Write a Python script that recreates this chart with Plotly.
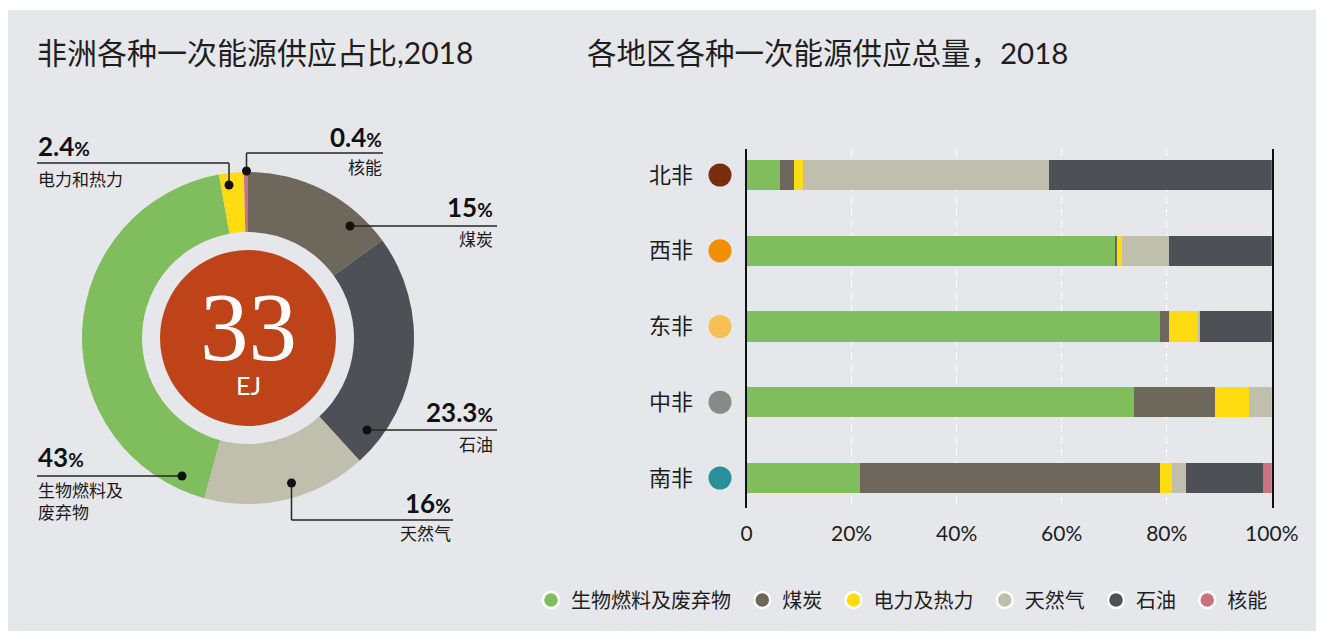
import plotly.graph_objects as go

# ---------------- data ----------------
regions = ["北非", "西非", "东非", "中非", "南非"]
region_colors = ["#7A2C12", "#F18F01", "#F8C053", "#8A8A88", "#2A8F9B"]

series_names = ["生物燃料及废弃物", "煤炭", "电力及热力", "天然气", "石油", "核能"]
series_colors = ["#7FBD5D", "#6E675B", "#FFDC11", "#C0BFAD", "#4D5155", "#C97280"]
bio = [6.3, 70.0, 78.7, 73.6, 21.6]
coal = [2.6, 0.4, 1.6, 15.4, 57.1]
elec = [1.7, 0.9, 5.6, 6.6, 2.3]
gas = [46.8, 9.0, 0.3, 4.4, 2.5]
oil = [42.6, 19.7, 13.8, 0.0, 14.8]
nuclear = [0.0, 0.0, 0.0, 0.0, 1.7]
series_values = [bio, coal, elec, gas, oil, nuclear]

pie_labels = ["煤炭", "石油", "天然气", "生物燃料及废弃物", "电力和热力", "核能"]
pie_values = [15, 23.3, 16, 43, 2.4, 0.4]
pie_colors = ["#6E675B", "#4D5155", "#C0BFAD", "#7FBD5D", "#FFDC11", "#C97280"]
pie_text = ["15", "23.3", "16", "43", "2.4", "0.4"]

x_ticks = [0, 20, 40, 60, 80, 100]
x_ticktext = ["0", "20%", "40%", "60%", "80%", "100%"]

total_value = "33"
total_unit = "EJ"
title_left = "非洲各种一次能源供应占比,2018"
title_right = "各地区各种一次能源供应总量，2018"

# ---------------- layout helpers ----------------
# the page body keeps its default 8px margin, so the figure is sized to fit the window
OX, OY = 8, 8
FW, FH = 1308, 623
BG = "#E6E7EB"
FONT = "Lato, 'Noto Sans CJK SC', sans-serif"
INK = "#1E1E1E"


def X(px):
    return (px - OX) / FW


def Y(py):
    return 1 - (py - OY) / FH


fig = go.Figure()

# donut
cx, cy, R, r_in, r_core = 248, 338, 166, 106, 88
fig.add_trace(go.Pie(
    labels=pie_labels, values=pie_values, sort=False, direction="clockwise",
    rotation=0, hole=r_in / R, textinfo="none", hoverinfo="label+percent",
    marker=dict(colors=pie_colors, line=dict(width=0)),
    domain=dict(x=[X(cx - R), X(cx + R)], y=[Y(cy + R), Y(cy - R)]),
    showlegend=False,
))

# stacked bars
for name, vals, col in zip(series_names, series_values, series_colors):
    fig.add_trace(go.Bar(
        y=regions, x=vals, name=name, orientation="h",
        marker=dict(color=col, line=dict(width=0)), width=0.4,
        showlegend=False, xaxis="x", yaxis="y",
    ))

# region dots (own narrow x axis left of the bars)
fig.add_trace(go.Scatter(
    x=[0] * len(regions), y=regions, mode="markers", xaxis="x2", yaxis="y",
    marker=dict(size=23, color=region_colors, line=dict(width=0)), cliponaxis=False,
    showlegend=False, hoverinfo="skip",
))

# legend entries (round symbols); a narrow trailing space widens the item gap
for name, col in zip(series_names, series_colors):
    fig.add_trace(go.Scatter(
        x=[None], y=[None], mode="markers", name=name + "\u2005\u200a",
        marker=dict(size=16, color=col, line=dict(color="white", width=2.5)),
        showlegend=True,
    ))

shapes = []
annotations = []

# thin white band at the very top
shapes.append(dict(type="rect", xref="paper", yref="paper", x0=0, x1=1, y0=Y(10), y1=1,
                   fillcolor="white", line=dict(width=0), layer="below"))

# core circle with the total
shapes.append(dict(type="circle", xref="paper", yref="paper",
                   x0=X(cx - r_core), x1=X(cx + r_core), y0=Y(cy + r_core), y1=Y(cy - r_core),
                   fillcolor="#BF4319", line=dict(width=0)))
annotations.append(dict(
    xref="paper", yref="paper", x=X(cx), y=Y(337), showarrow=False,
    xanchor="center", yanchor="middle", align="center",
    text=(f"<span style=\"font-size:97px;font-family:Liberation Serif,DejaVu Serif,serif\">{total_value}</span>"
          f"<br><span style=\"font-size:25px\">{total_unit}</span>"),
    font=dict(family=FONT, size=27, color="white")))

# titles
annotations.append(dict(xref="paper", yref="paper", x=X(35), y=Y(52), text=title_left,
                        showarrow=False, xanchor="left", yanchor="middle",
                        font=dict(family=FONT, size=30, color=INK)))
annotations.append(dict(xref="paper", yref="paper", x=X(585), y=Y(52), text=title_right,
                        showarrow=False, xanchor="left", yanchor="middle",
                        font=dict(family=FONT, size=29.5, color=INK)))


def pct(v):
    return f"<b>{v}<span style='font-size:19px'>%</span></b>"


def leader(points, dot, num, num_xy, lab, lab_xy, anchor):
    for (x0, y0), (x1, y1) in zip(points[:-1], points[1:]):
        shapes.append(dict(type="line", xref="paper", yref="paper",
                           x0=X(x0), y0=Y(y0), x1=X(x1), y1=Y(y1),
                           line=dict(color="#262626", width=1.5)))
    dr = 4.5
    shapes.append(dict(type="circle", xref="paper", yref="paper",
                       x0=X(dot[0] - dr), x1=X(dot[0] + dr), y0=Y(dot[1] + dr), y1=Y(dot[1] - dr),
                       fillcolor="#111111", line=dict(width=0)))
    annotations.append(dict(xref="paper", yref="paper", x=X(num_xy[0]), y=Y(num_xy[1]),
                            text=pct(num), showarrow=False, xanchor=anchor, yanchor="middle",
                            font=dict(family=FONT, size=26, color="#111111")))
    annotations.append(dict(xref="paper", yref="paper", x=X(lab_xy[0]), y=Y(lab_xy[1]),
                            text=lab, showarrow=False, xanchor=anchor, yanchor="middle",
                            align="left" if anchor == "left" else "right",
                            font=dict(family=FONT, size=17, color="#1A1A1A")))


# electricity 2.4
leader([(37, 163), (229, 163), (229, 185)], (229, 185), pie_text[4], (36, 146),
       "电力和热力", (36, 180), "left")
# nuclear 0.4
leader([(383, 153), (246.5, 153), (246.5, 171)], (246.5, 171), pie_text[5], (384, 137),
       "核能", (384, 168), "right")
# coal 15
leader([(350, 226), (497, 226)], (350, 226), pie_text[0], (495, 207),
       "煤炭", (495, 239), "right")
# oil 23.3
leader([(367, 430), (497, 430)], (367, 430), pie_text[1], (495, 412),
       "石油", (495, 444), "right")
# gas 16
leader([(291.5, 483), (291.5, 520), (453, 520)], (291.5, 483), pie_text[2], (453, 503),
       "天然气", (453, 533), "right")
# bio 43
leader([(37, 476), (182, 476)], (182, 476), pie_text[3], (36, 457),
       "生物燃料及<br>废弃物", (36, 501), "left")

# bar axes geometry
x_left, x_right = 746.5, 1271.8
y_top, y_bot = 149, 508
c_first, c_last = 175, 478
step = (c_last - c_first) / (len(regions) - 1)
y_range = [len(regions) - 1 + (y_bot - c_last) / step, -(c_first - y_top) / step]
dot_x = 720

fig.update_layout(
    width=FW, height=FH, autosize=False,
    margin=dict(l=0, r=0, t=0, b=0, pad=0, autoexpand=False),
    paper_bgcolor=BG, plot_bgcolor="rgba(0,0,0,0)",
    barmode="stack", bargap=0,
    font=dict(family=FONT, color=INK),
    xaxis=dict(domain=[X(x_left), X(x_right)], range=[0, 100], tickvals=x_ticks,
               ticktext=x_ticktext, showgrid=True, gridcolor="white", gridwidth=1,
               griddash="7px,5px", zeroline=False, showline=False, ticks="",
               ticklabelstandoff=11, tickfont=dict(size=21, color=INK), fixedrange=True,
               automargin=False),
    xaxis2=dict(domain=[X(dot_x - 12), X(dot_x + 12)], range=[-1, 1], anchor="y",
                visible=False, fixedrange=True),
    yaxis=dict(domain=[Y(y_bot), Y(y_top)], range=y_range, type="category",
               showgrid=False, zeroline=False, showline=True, mirror=True,
               linecolor="#111111", linewidth=2, ticks="", ticklabelstandoff=47,
               tickfont=dict(size=22, color=INK), fixedrange=True, automargin=False),
    legend=dict(orientation="h", x=X(531), xanchor="left", y=Y(600), yanchor="middle",
                font=dict(family=FONT, size=20, color=INK), bgcolor="rgba(0,0,0,0)",
                itemsizing="trace", traceorder="normal", itemclick=False, itemdoubleclick=False),
    shapes=shapes, annotations=annotations,
)

fig.write_html("out.html", config={"displayModeBar": False})
